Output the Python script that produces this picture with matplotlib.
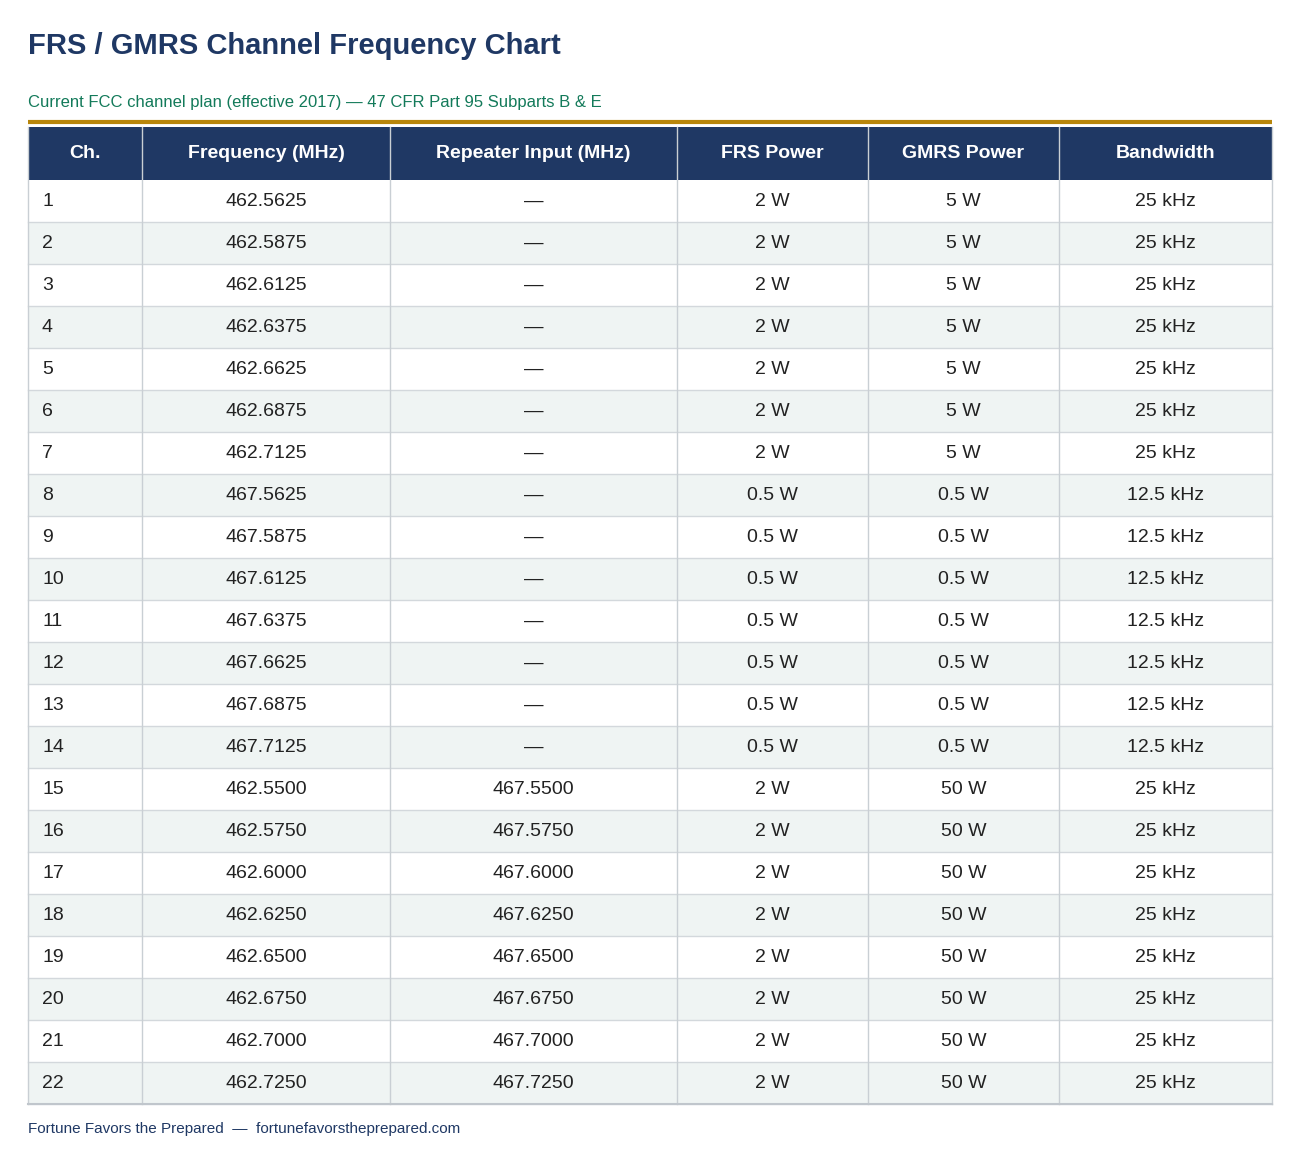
import matplotlib
matplotlib.use("Agg")
import matplotlib.pyplot as plt
from matplotlib.patches import Rectangle

plt.rcParams['font.family'] = ['Liberation Sans', 'DejaVu Sans']

title = "FRS / GMRS Channel Frequency Chart"
subtitle = "Current FCC channel plan (effective 2017) \u2014 47 CFR Part 95 Subparts B & E"
footer = "Fortune Favors the Prepared  \u2014  fortunefavorstheprepared.com"

headers = ["Ch.", "Frequency (MHz)", "Repeater Input (MHz)", "FRS Power", "GMRS Power", "Bandwidth"]
channels = [str(i) for i in range(1, 23)]
freqs = ["462.5625", "462.5875", "462.6125", "462.6375", "462.6625", "462.6875", "462.7125",
         "467.5625", "467.5875", "467.6125", "467.6375", "467.6625", "467.6875", "467.7125",
         "462.5500", "462.5750", "462.6000", "462.6250", "462.6500", "462.6750", "462.7000", "462.7250"]
repeater = ["\u2014"] * 14 + ["467.5500", "467.5750", "467.6000", "467.6250",
                              "467.6500", "467.6750", "467.7000", "467.7250"]
frs_power = ["2 W"] * 7 + ["0.5 W"] * 7 + ["2 W"] * 8
gmrs_power = ["5 W"] * 7 + ["0.5 W"] * 7 + ["50 W"] * 8
bandwidth = ["25 kHz"] * 7 + ["12.5 kHz"] * 7 + ["25 kHz"] * 8

navy = "#1f3864"
col_x = [28, 142, 390, 677, 868, 1059, 1272]
head_top, head_bot, row_h = 127, 180, 42

fig = plt.figure(figsize=(13, 11.72), dpi=100)
ax = fig.add_axes([0, 0, 1, 1])
ax.set_xlim(0, 1300)
ax.set_ylim(1172, 0)
ax.axis("off")

ax.text(28, 46, title, fontsize=21, fontweight="bold", color=navy, va="center")
ax.text(28, 102, subtitle, fontsize=12, color="#137a5a", va="center")
ax.plot([28, 1272], [122, 122], color="#b8860b", lw=3, solid_capstyle="butt")

# header
ax.add_patch(Rectangle((28, head_top), 1244, head_bot - head_top, color=navy, lw=0))
for i, h in enumerate(headers):
    ax.text((col_x[i] + col_x[i + 1]) / 2, (head_top + head_bot) / 2, h,
            fontsize=14, fontweight="bold", color="white", ha="center", va="center")

rows = list(zip(channels, freqs, repeater, frs_power, gmrs_power, bandwidth))
for r, row in enumerate(rows):
    y0 = head_bot + r * row_h
    fc = "white" if r % 2 == 0 else "#eff4f3"
    ax.add_patch(Rectangle((28, y0), 1244, row_h, facecolor=fc, edgecolor="none"))
    ax.plot([28, 1272], [y0 + row_h, y0 + row_h], color="#d3d8dc", lw=1)
    for i, val in enumerate(row):
        if i == 0:
            ax.text(42, y0 + row_h / 2, val, fontsize=14, color="#222222", va="center")
        else:
            ax.text((col_x[i] + col_x[i + 1]) / 2, y0 + row_h / 2, val, fontsize=14,
                    color="#222222", ha="center", va="center")

bottom = head_bot + len(rows) * row_h
for x in col_x:
    ax.plot([x, x], [head_top, bottom], color="#c9cfd4", lw=1)
ax.plot([28, 1272], [bottom, bottom], color="#c0c6cc", lw=1.5)

ax.text(28, 1129, footer, fontsize=11, color=navy, va="center")

fig.savefig("out.png", dpi=100)
